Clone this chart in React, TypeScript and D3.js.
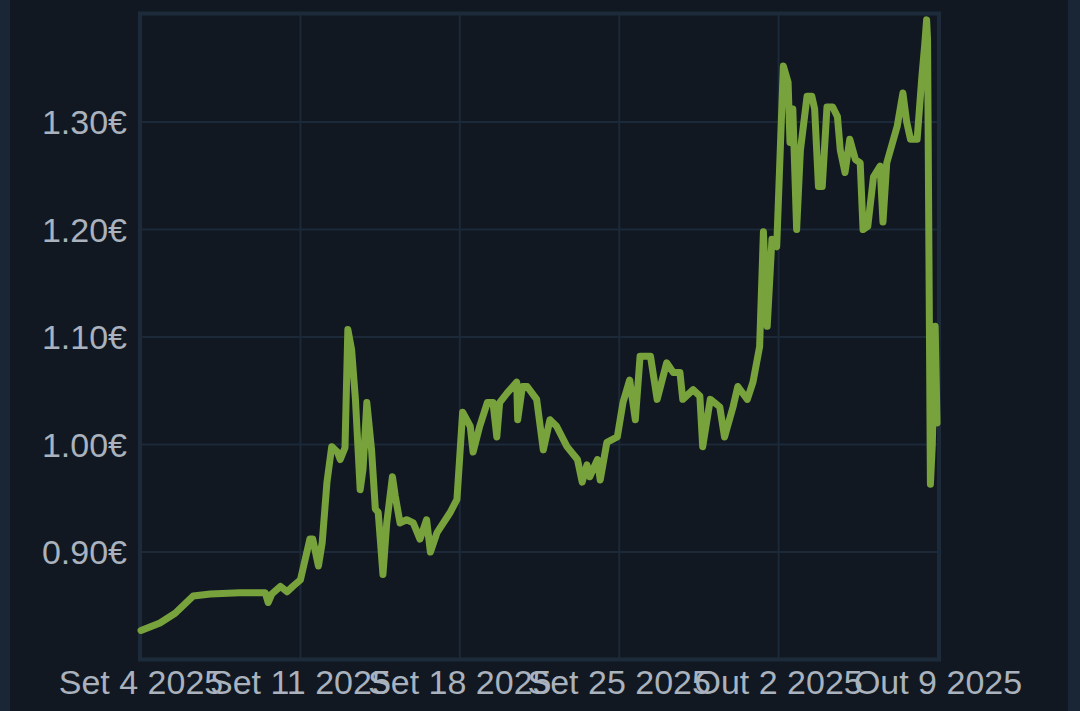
import React from "react";
import * as d3 from "d3";

const times: string[] = [
  "2025-09-04 00:00", "2025-09-04 20:00", "2025-09-05 12:00", "2025-09-06 07:00", "2025-09-07 01:00",
  "2025-09-08 08:00", "2025-09-09 11:00", "2025-09-09 14:00", "2025-09-09 18:00", "2025-09-10 03:00",
  "2025-09-10 10:00", "2025-09-10 16:00", "2025-09-11 00:00", "2025-09-11 05:00", "2025-09-11 10:00",
  "2025-09-11 13:00", "2025-09-11 19:00", "2025-09-11 23:00", "2025-09-12 04:00", "2025-09-12 09:00",
  "2025-09-12 15:00", "2025-09-12 18:00", "2025-09-12 23:00", "2025-09-13 02:00", "2025-09-13 06:00",
  "2025-09-13 10:00", "2025-09-13 15:00", "2025-09-13 18:00", "2025-09-13 22:00", "2025-09-14 03:00",
  "2025-09-14 07:00", "2025-09-14 10:00", "2025-09-14 12:00", "2025-09-14 15:00", "2025-09-14 19:00",
  "2025-09-15 01:00", "2025-09-15 04:00", "2025-09-15 09:00", "2025-09-15 16:00", "2025-09-15 23:00",
  "2025-09-16 06:00", "2025-09-16 13:00", "2025-09-16 17:00", "2025-09-17 00:00", "2025-09-17 14:00",
  "2025-09-17 21:00", "2025-09-18 03:00", "2025-09-18 11:00", "2025-09-18 14:00", "2025-09-18 21:00",
  "2025-09-19 05:00", "2025-09-19 11:00", "2025-09-19 15:00", "2025-09-19 18:00", "2025-09-20 02:00",
  "2025-09-20 12:00", "2025-09-20 13:00", "2025-09-20 18:00", "2025-09-20 23:00", "2025-09-21 09:00",
  "2025-09-21 16:00", "2025-09-21 23:00", "2025-09-22 06:00", "2025-09-22 17:00", "2025-09-23 04:00",
  "2025-09-23 09:00", "2025-09-23 14:00", "2025-09-23 17:00", "2025-09-24 01:00", "2025-09-24 04:00",
  "2025-09-24 11:00", "2025-09-24 22:00", "2025-09-25 04:00", "2025-09-25 11:00", "2025-09-25 17:00",
  "2025-09-25 22:00", "2025-09-26 09:00", "2025-09-26 16:00", "2025-09-27 02:00", "2025-09-27 09:00",
  "2025-09-27 16:00", "2025-09-27 19:00", "2025-09-28 06:00", "2025-09-28 13:00", "2025-09-28 16:00",
  "2025-09-29 00:00", "2025-09-29 10:00", "2025-09-29 15:00", "2025-09-30 00:00", "2025-09-30 05:00",
  "2025-09-30 15:00", "2025-09-30 21:00", "2025-10-01 04:00", "2025-10-01 08:00", "2025-10-01 12:00",
  "2025-10-01 17:00", "2025-10-01 22:00", "2025-10-02 05:00", "2025-10-02 10:00", "2025-10-02 12:00",
  "2025-10-02 15:00", "2025-10-02 19:00", "2025-10-02 23:00", "2025-10-03 06:00", "2025-10-03 11:00",
  "2025-10-03 14:00", "2025-10-03 18:00", "2025-10-03 22:00", "2025-10-04 03:00", "2025-10-04 09:00",
  "2025-10-04 14:00", "2025-10-04 17:00", "2025-10-04 22:00", "2025-10-05 03:00", "2025-10-05 09:00",
  "2025-10-05 14:00", "2025-10-05 17:00", "2025-10-05 22:00", "2025-10-06 04:00", "2025-10-06 11:00",
  "2025-10-06 14:00", "2025-10-06 18:00", "2025-10-07 05:00", "2025-10-07 11:00", "2025-10-07 15:00",
  "2025-10-07 19:00", "2025-10-08 02:00", "2025-10-08 07:00", "2025-10-08 10:00", "2025-10-08 12:00",
  "2025-10-08 13:00", "2025-10-08 16:00", "2025-10-08 18:00", "2025-10-08 21:00", "2025-10-08 23:00",
];

const prices: number[] = [
  0.827, 0.834, 0.843, 0.859, 0.861,
  0.862, 0.862, 0.853, 0.861, 0.868,
  0.863, 0.868, 0.874, 0.893, 0.912,
  0.912, 0.887, 0.909, 0.965, 0.998,
  0.993, 0.986, 0.997, 1.107, 1.088,
  1.042, 0.958, 0.977, 1.039, 0.995,
  0.940, 0.937, 0.914, 0.879, 0.927,
  0.970, 0.952, 0.927, 0.930, 0.927,
  0.912, 0.930, 0.900, 0.918, 0.937,
  0.949, 1.030, 1.017, 0.993, 1.017,
  1.039, 1.039, 1.007, 1.039, 1.048,
  1.058, 1.023, 1.054, 1.054, 1.042,
  0.995, 1.023, 1.017, 0.998, 0.986,
  0.965, 0.981, 0.970, 0.986, 0.967,
  1.002, 1.007, 1.039, 1.060, 1.023,
  1.082, 1.082, 1.042, 1.076, 1.067,
  1.067, 1.042, 1.051, 1.045, 0.998,
  1.042, 1.035, 1.007, 1.035, 1.054,
  1.042, 1.058, 1.091, 1.198, 1.110,
  1.191, 1.184, 1.352, 1.337, 1.281,
  1.312, 1.200, 1.274, 1.324, 1.324,
  1.312, 1.240, 1.240, 1.314, 1.314,
  1.305, 1.274, 1.253, 1.284, 1.265,
  1.262, 1.200, 1.203, 1.249, 1.259,
  1.207, 1.262, 1.296, 1.327, 1.300,
  1.284, 1.284, 1.342, 1.372, 1.395,
  1.377, 0.963, 1.000, 1.110, 1.020,
];

const yTicks: number[] = [0.9, 1.0, 1.1, 1.2, 1.3];
const xTickDates: string[] = ["2025-09-04", "2025-09-11", "2025-09-18", "2025-09-25", "2025-10-02", "2025-10-09"];
const monthNames: string[] = ["Jan", "Fev", "Mar", "Abr", "Mai", "Jun", "Jul", "Ago", "Set", "Out", "Nov", "Dez"];

const W = 1080;
const H = 711;
const left = 141;
const right = 938;
const top = 14.5;
const bottom = 659.5;

export default function App() {
  const parse = d3.timeParse("%Y-%m-%d %H:%M");
  const parseDay = d3.timeParse("%Y-%m-%d");
  const data = times.map((t, i) => ({ t: parse(t) as Date, v: prices[i] }));
  const x = d3
    .scaleTime()
    .domain([parseDay("2025-09-04") as Date, parseDay("2025-10-09") as Date])
    .range([left, right]);
  const y = d3.scaleLinear().domain([0.8, 1.4]).range([bottom, top]);
  const line = d3
    .line<{ t: Date; v: number }>()
    .x((d) => x(d.t))
    .y((d) => y(d.v))
    .curve(d3.curveLinear);
  const xt = xTickDates.map((s) => parseDay(s) as Date);
  const fmt = (d: Date) => `${monthNames[d.getMonth()]} ${d.getDate()} 2025`;
  const font = "'Liberation Sans', Arial, sans-serif";
  const grid = "#1c2939";
  const textColor = "#a9b2bd";

  return (
    <svg width={W} height={H} style={{ position: "absolute", left: 0, top: 0 }}>
      <rect x={0} y={0} width={W} height={H} fill="#111822" />
      <rect x={0} y={0} width={10} height={H} fill="#1a2635" />
      <rect x={1068} y={0} width={12} height={H} fill="#1a2635" />
      {yTicks.map((t) => (
        <line key={"gy" + t} x1={left} x2={right} y1={y(t)} y2={y(t)} stroke={grid} strokeWidth={2} />
      ))}
      {xt.map((d, i) => (
        <line key={"gx" + i} x1={x(d)} x2={x(d)} y1={top} y2={bottom} stroke={grid} strokeWidth={2} />
      ))}
      <rect
        x={left - 1}
        y={top - 1}
        width={right - left + 2}
        height={bottom - top + 1}
        fill="none"
        stroke="#1d2a3a"
        strokeWidth={4}
      />
      <path
        d={line(data) || ""}
        fill="none"
        stroke="#78a23c"
        strokeWidth={7}
        strokeLinejoin="round"
        strokeLinecap="round"
      />
      {yTicks.map((t) => (
        <text
          key={"ty" + t}
          x={127}
          y={y(t)}
          dy="0.36em"
          textAnchor="end"
          fontFamily={font}
          fontSize={34}
          fill={textColor}
        >
          {t.toFixed(2) + "€"}
        </text>
      ))}
      {xt.map((d, i) => (
        <text
          key={"tx" + i}
          x={x(d)}
          y={694}
          textAnchor="middle"
          fontFamily={font}
          fontSize={34}
          fill={textColor}
        >
          {fmt(d)}
        </text>
      ))}
    </svg>
  );
}
